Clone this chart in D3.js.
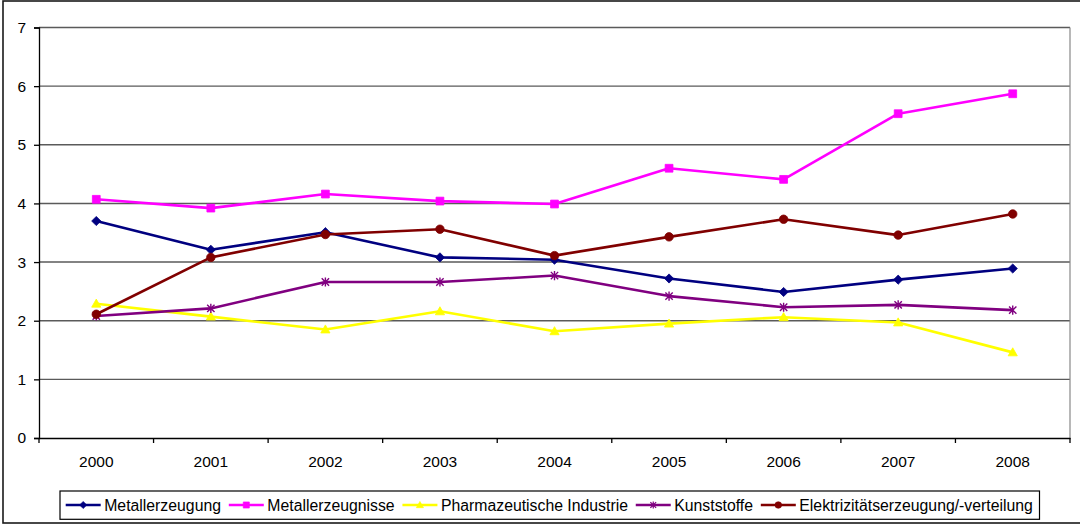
<!DOCTYPE html>
<html><head><meta charset="utf-8">
<script src="https://cdn.jsdelivr.net/npm/d3@7/dist/d3.min.js"></script>
<style>body{margin:0;background:#fff}svg{display:block;font-family:"Liberation Sans",Arial,sans-serif}</style>
</head><body><svg id="c" width="1080" height="526"></svg>
<script>
const years = ["2000","2001","2002","2003","2004","2005","2006","2007","2008"];
const metallerzeugung = [3.70,3.21,3.51,3.08,3.04,2.72,2.49,2.70,2.89];
const metallerzeugnisse = [4.07,3.92,4.16,4.04,3.99,4.60,4.41,5.53,5.87];
const pharma = [2.29,2.07,1.85,2.16,1.82,1.95,2.06,1.97,1.46];
const kunststoffe = [2.08,2.21,2.66,2.66,2.77,2.42,2.23,2.27,2.18];
const elektrizitaet = [2.11,3.08,3.47,3.56,3.11,3.43,3.73,3.46,3.82];
const yTicks = [0,1,2,3,4,5,6,7];
const seriesNames = ["Metallerzeugung","Metallerzeugnisse","Pharmazeutische Industrie","Kunststoffe","Elektrizitätserzeugung/-verteilung"];

const series = [
  {name:seriesNames[0], values:metallerzeugung, color:"#000080", marker:"diamond"},
  {name:seriesNames[1], values:metallerzeugnisse, color:"#FF00FF", marker:"square"},
  {name:seriesNames[2], values:pharma, color:"#FFFF00", marker:"triangle"},
  {name:seriesNames[3], values:kunststoffe, color:"#800080", marker:"star"},
  {name:seriesNames[4], values:elektrizitaet, color:"#800000", marker:"circle"}
];

const svg = d3.select("#c");
// outer border
svg.append("rect").attr("x",3).attr("y",1).attr("width",1090).attr("height",522)
  .attr("fill","none").attr("stroke","#1a1a1a").attr("stroke-width",1.6);

const L=39, R=1070, T=27.5, B=438;
const x = d3.scaleBand().domain(years).range([L,R]);
const y = d3.scaleLinear().domain([0,7]).range([B,T]);

// gridlines
svg.append("g").selectAll("line").data(yTicks.filter(d=>d>0)).join("line")
  .attr("x1",L).attr("x2",R).attr("y1",d=>y(d)).attr("y2",d=>y(d))
  .attr("stroke","#5a5a5a").attr("stroke-width",1.4);
// right border of plot
svg.append("line").attr("x1",R).attr("x2",R).attr("y1",T).attr("y2",B)
  .attr("stroke","#888").attr("stroke-width",1.2);

// y axis
const yAxis = d3.axisLeft(y).tickValues(yTicks).tickSize(5).tickPadding(8).tickFormat(d3.format("d"));
const gy = svg.append("g").attr("transform",`translate(${L},0)`).call(yAxis);
gy.select(".domain").attr("stroke","#000").attr("stroke-width",1.3);
gy.selectAll(".tick line").attr("stroke","#000").attr("stroke-width",1.3);
gy.selectAll(".tick text").attr("font-size","15.5px").attr("fill","#000").attr("font-family","Liberation Sans, Arial, sans-serif");

// x axis
const xAxis = d3.axisBottom(x).tickSize(0).tickPadding(18);
const gx = svg.append("g").attr("transform",`translate(0,${B})`).call(xAxis);
gx.select(".domain").attr("stroke","#000").attr("stroke-width",1.3);
gx.selectAll(".tick text").attr("font-size","15.5px").attr("fill","#000").attr("font-family","Liberation Sans, Arial, sans-serif");
// boundary ticks
const bounds = years.map(d=>x(d)).concat([x(years[years.length-1])+x.bandwidth()]);
svg.append("g").selectAll("line").data(bounds).join("line")
  .attr("x1",d=>d).attr("x2",d=>d).attr("y1",B).attr("y2",B+5)
  .attr("stroke","#000").attr("stroke-width",1.3);

const cx = d=>x(d)+x.bandwidth()/2;

function markerPath(type, s){
  switch(type){
    case "diamond": return `M0,${-s}L${s},0L0,${s}L${-s},0Z`;
    case "square": return `M${-s*0.85},${-s*0.85}h${s*1.7}v${s*1.7}h${-s*1.7}Z`;
    case "triangle": return `M0,${-s}L${s},${s*0.75}L${-s},${s*0.75}Z`;
    case "star": return `M${-s*0.8},${-s*0.8}L${s*0.8},${s*0.8}M${-s*0.8},${s*0.8}L${s*0.8},${-s*0.8}M0,${-s}L0,${s}`;
    case "circle": return d3.symbol(d3.symbolCircle, Math.PI*s*s*0.85)();
  }
}

const line = d3.line().x((d,i)=>cx(years[i])).y(d=>y(d));
series.forEach(s=>{
  const g = svg.append("g");
  g.append("path").datum(s.values).attr("d",line).attr("fill","none")
    .attr("stroke",s.color).attr("stroke-width",2.6).attr("stroke-linejoin","round");
  g.selectAll("path.m").data(s.values).join("path").attr("class","m")
    .attr("transform",(d,i)=>`translate(${cx(years[i])},${y(d)})`)
    .attr("d",markerPath(s.marker,4.6))
    .attr("fill",s.marker==="star"?"none":s.color)
    .attr("stroke",s.color).attr("stroke-width",s.marker==="star"?1.4:0.8);
});

// legend
const lg = svg.append("g");
lg.append("rect").attr("x",60).attr("y",491).attr("width",979.5).attr("height",28.3)
  .attr("fill","#fff").attr("stroke","#000").attr("stroke-width",1.2);
let lx = 65.7;
const ly = 505;
series.forEach(s=>{
  lg.append("line").attr("x1",lx).attr("x2",lx+35).attr("y1",ly).attr("y2",ly)
    .attr("stroke",s.color).attr("stroke-width",2.6);
  lg.append("path").attr("transform",`translate(${lx+17.5},${ly})`)
    .attr("d",markerPath(s.marker,3.6))
    .attr("fill",s.marker==="star"?"none":s.color)
    .attr("stroke",s.color).attr("stroke-width",s.marker==="star"?1.2:0.6);
  const t = lg.append("text").attr("x",lx+38.5).attr("y",510.5).attr("font-size","15.8px")
    .attr("fill","#000").text(s.name);
  lx = lx + 38.5 + t.node().getComputedTextLength() + 7.8;
});
</script></body></html>
